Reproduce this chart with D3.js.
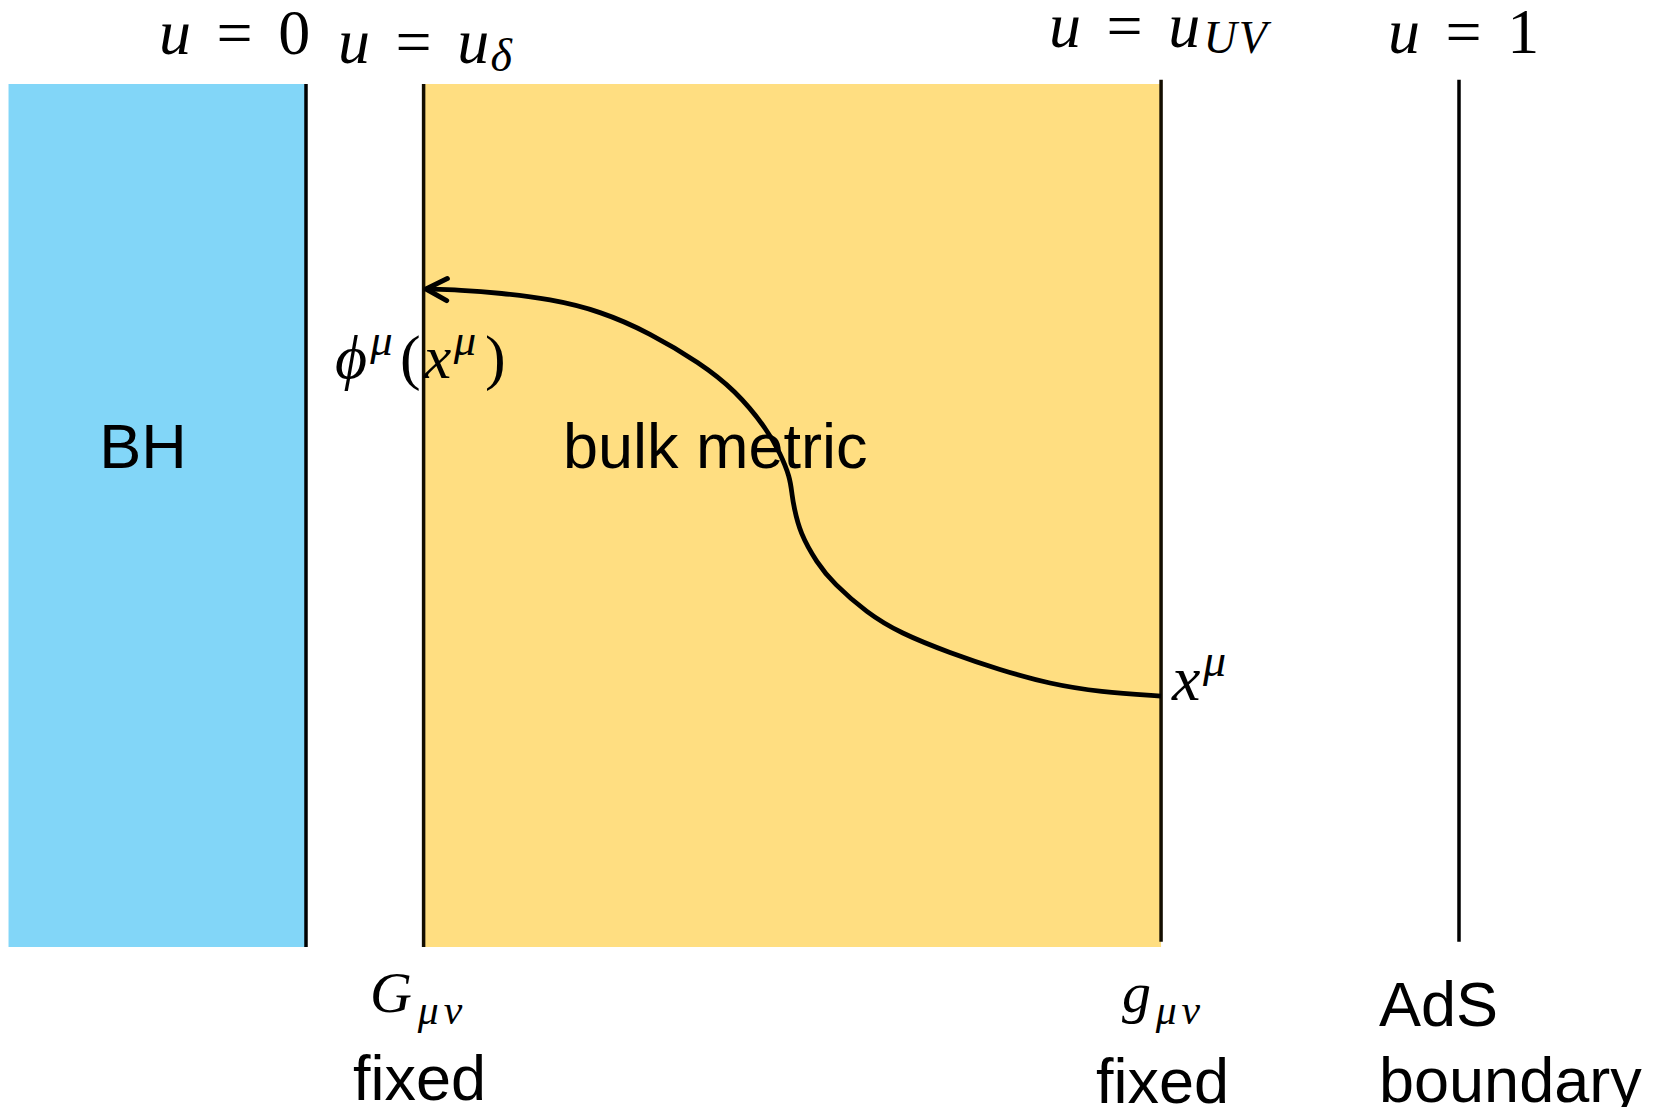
<!DOCTYPE html>
<html>
<head>
<meta charset="utf-8">
<script src="https://cdn.jsdelivr.net/npm/d3@7"></script>
<style>
  body { margin: 0; background: #fff; }
  svg { display: block; }
</style>
</head>
<body>
<div id="chart"></div>
<script>

// radial coordinate u of the special slices
const uDelta = 0.102;
const uUV = 0.7416;

// shaded regions (BH horizon side, bulk between cutoffs)
const regionNames = ["BH", "bulk"];
const regionU0 = [-0.258, uDelta];
const regionU1 = [0, uUV];
const regionV0 = [0, 0];
const regionV1 = [100, 100];

// vertical slices u = 0, u_delta, u_UV, 1
const sliceU = [0, uDelta, uUV, 1];
const sliceTop = [100, 100, 100.5, 100.5];
const sliceBottom = [0, 0, 0.6, 0.6];

// the map x^mu -> phi^mu(x^mu) (from u_UV back to u_delta)
const curveU = [0.7416, 0.6886, 0.6453, 0.6019, 0.5585, 0.5152, 0.4866, 0.4571, 0.4432, 0.4284,
                0.4232, 0.4215, 0.4198, 0.4111, 0.3998, 0.3721, 0.3417, 0.2983, 0.2550, 0.2116,
                0.1683, 0.1336, 0.1041];
const curveV = [29.08, 29.55, 30.47, 32.10, 34.07, 36.38, 38.70, 42.18, 44.50, 47.97,
                50.99, 52.38, 54.46, 57.24, 60.02, 64.54, 67.67, 71.15, 73.70, 75.09,
                75.78, 76.13, 76.25];

const W = 1657, H = 1107;

const svg = d3.select("#chart")
    .append("svg")
    .attr("width", W)
    .attr("height", H)
    .attr("viewBox", "0 0 " + W + " " + H);

const x = d3.scaleLinear().domain([0, 1]).range([306, 1459]);
const y = d3.scaleLinear().domain([0, 100]).range([947, 84]);

const regionColor = d3.scaleOrdinal()
    .domain(regionNames)
    .range(["#82D6F8", "#FFDE81"]);

//REGIONS
svg.selectAll("rect.region")
    .data(regionNames)
    .enter()
    .append("rect")
    .attr("class", "region")
    .attr("x", (d, i) => x(regionU0[i]))
    .attr("width", (d, i) => x(regionU1[i]) - x(regionU0[i]))
    .attr("y", (d, i) => y(regionV1[i]))
    .attr("height", (d, i) => y(regionV0[i]) - y(regionV1[i]))
    .attr("fill", d => regionColor(d));

//SLICES
svg.selectAll("line.slice")
    .data(sliceU)
    .enter()
    .append("line")
    .attr("class", "slice")
    .attr("x1", d => x(d))
    .attr("x2", d => x(d))
    .attr("y1", (d, i) => y(sliceTop[i]))
    .attr("y2", (d, i) => y(sliceBottom[i]))
    .attr("stroke", (d, i) => (i === 1 || i === 2) ? "#140e00" : "#000")
    .attr("stroke-width", 3.5);

//CURVE + ARROW
svg.append("defs")
    .append("marker")
    .attr("id", "arrow")
    .attr("markerUnits", "userSpaceOnUse")
    .attr("viewBox", "-26 -16 30 32")
    .attr("markerWidth", 30)
    .attr("markerHeight", 32)
    .attr("refX", 0)
    .attr("refY", 0)
    .attr("orient", "auto")
    .append("path")
    .attr("d", "M-21,-11L0,0L-21,11")
    .attr("fill", "none")
    .attr("stroke", "#000")
    .attr("stroke-width", 5)
    .attr("stroke-linecap", "round")
    .attr("stroke-linejoin", "round");

// B-spline smooths over small reading errors in the points
const line = d3.line()
    .x(d => x(d[0]))
    .y(d => y(d[1]))
    .curve(d3.curveBasis);

svg.append("path")
    .datum(d3.zip(curveU, curveV))
    .attr("d", line)
    .attr("fill", "none")
    .attr("stroke", "#000")
    .attr("stroke-width", 4.8)
    .attr("marker-end", "url(#arrow)");

//PLAIN LABELS
function sansLabel(tx, ty, txt, anchor) {
    svg.append("text")
        .attr("x", tx)
        .attr("y", ty)
        .attr("font-family", "'Liberation Sans', Arial, sans-serif")
        .attr("font-size", 63)
        .attr("text-anchor", anchor || "start")
        .attr("fill", "#000")
        .text(txt);
}

sansLabel(143, 468, "BH", "middle");
sansLabel(563, 468, "bulk metric");
sansLabel(353, 1100, "fixed");
sansLabel(1096, 1103, "fixed");
sansLabel(1379, 1026, "AdS");
sansLabel(1379, 1102, "boundary");

//MATH LABELS
// pieces: [text, italic, level ("", "sub", "sup"), gap before in em, letter-spacing]
function mathLabel(tx, ty, size, pieces, subShift) {
    const t = svg.append("text")
        .attr("x", tx)
        .attr("y", ty)
        .attr("font-family", "'Liberation Serif', 'DejaVu Serif', serif")
        .attr("font-size", size)
        .attr("fill", "#000");
    let shift = 0;
    pieces.forEach(p => {
        const lvl = p[2];
        const target = lvl === "sub" ? size * (subShift || 0.2) : lvl === "sup" ? -size * 0.37 : 0;
        t.append("tspan")
            .attr("dx", (p[3] || 0) * size)
            .attr("dy", target - shift)
            .attr("font-size", lvl ? size * 0.72 : size)
            .attr("font-style", p[1] ? "italic" : "normal")
            .attr("letter-spacing", p[4] || 0)
            .text(p[0]);
        shift = target;
    });
}

mathLabel(159, 54, 64, [["u", true], ["=", false, "", 0.4], ["0", false, "", 0.4]]);
mathLabel(338, 63, 64, [["u", true], ["=", false, "", 0.4], ["u", true, "", 0.4], ["δ", true, "sub", 0.02]], 0.12);
mathLabel(1049, 47, 64, [["u", true], ["=", false, "", 0.4], ["u", true, "", 0.4], ["UV", true, "sub", 0.05, 2]], 0.1);
mathLabel(1388, 53, 64, [["u", true], ["=", false, "", 0.4], ["1", false, "", 0.4]]);

mathLabel(335, 378, 62, [["ϕ", true], ["μ", true, "sup", 0.05], ["(", false, "", 0.12], ["x", true, "", 0.05], ["μ", true, "sup", 0.04], [")", false, "", 0.14]]);
mathLabel(1172, 700, 64, [["x", true], ["μ", true, "sup", 0.04]]);

mathLabel(370, 1012, 58, [["G", true], ["μν", true, "sub", 0.1, 5]]);
mathLabel(1122, 1012, 58, [["g", true], ["μν", true, "sub", 0.08, 5]]);

</script>
</body>
</html>
